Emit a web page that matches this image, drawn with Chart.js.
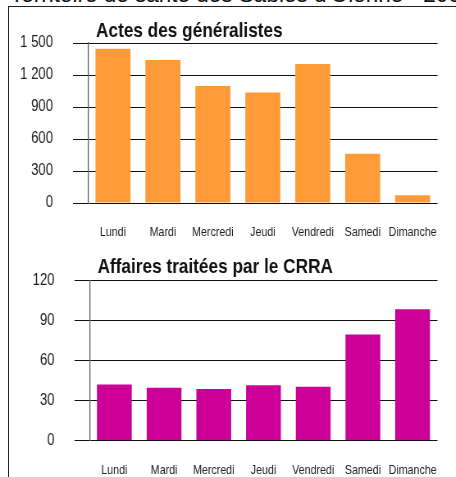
<!DOCTYPE html>
<html>
<head>
<meta charset="utf-8">
<script src="https://cdn.jsdelivr.net/npm/chart.js@4/dist/chart.umd.min.js"></script>
<style>
  html, body { margin: 0; padding: 0; background: #fff; }
  #page { position: relative; width: 456px; height: 477px; overflow: hidden; }
  #head { position: absolute; left: 10px; top: -18px; font: 22.5px "Liberation Sans", Arial, sans-serif; color: #111; white-space: nowrap; }
  #frame { position: absolute; left: 8px; top: 6px; width: 460px; height: 480px; border-left: 1px solid #222; border-top: 1px solid #222; }
  /* no narrow font installed: draw wide and squeeze horizontally like Arial Narrow */
  canvas { position: absolute; left: 0; transform: scaleX(0.82); transform-origin: 0 0; }
</style>
</head>
<body>
<div id="page">
  <div id="head">Territoire de santé des Sables d'Olonne - 2009</div>
  <div id="frame"></div>
  <canvas id="actesChart" width="556" height="245" style="top:0"></canvas>
  <canvas id="crraChart" width="556" height="232" style="top:245px"></canvas>
</div>
<script>
const days = ['Lundi', 'Mardi', 'Mercredi', 'Jeudi', 'Vendredi', 'Samedi', 'Dimanche'];
const actes = [1445, 1340, 1097, 1037, 1302, 462, 72];
const affaires = [42, 39.5, 38.7, 41.5, 40.3, 79.5, 98.5];
const actesTicks = [0, 300, 600, 900, 1200, 1500];
const affairesTicks = [0, 30, 60, 90, 120];

const SX = 0.82; // horizontal squeeze
const font = '"Liberation Sans", Arial, sans-serif';

// title left-aligned over the plot area
const titlePlugin = {
    id: 'leftTitle',
    afterDraw(chart, args, opts) {
        const ctx = chart.ctx;
        ctx.save();
        ctx.font = 'bold 21px ' + font;
        ctx.fillStyle = '#111';
        ctx.textBaseline = 'alphabetic';
        ctx.fillText(opts.text, chart.chartArea.left + 8 / SX, opts.y);
        ctx.restore();
    }
};

function fmt(v) {
    return String(v).replace(/\B(?=(\d{3})+(?!\d))/g, ' ');
}

function makeChart(id, values, ticks, color, title, cfg) {
    return new Chart(document.getElementById(id), {
        type: 'bar',
        data: {
            labels: days,
            datasets: [{
                data: values,
                backgroundColor: color,
                borderWidth: 0,
                categoryPercentage: 0.7,
                barPercentage: 1
            }]
        },
        plugins: [titlePlugin],
        options: {
            responsive: false,
            animation: false,
            layout: { padding: { top: cfg.top, right: 556 - 438 / SX, left: 0, bottom: 0 } },
            plugins: {
                legend: { display: false },
                tooltip: { enabled: false },
                leftTitle: { text: title, y: cfg.titleY }
            },
            scales: {
                x: {
                    grid: { display: false, drawTicks: false },
                    border: { display: false },
                    ticks: { padding: 22, color: '#222', font: { family: font, size: 13 }, maxRotation: 0, autoSkip: false },
                    afterFit: s => { s.height = cfg.xh; }
                },
                y: {
                    min: 0,
                    max: ticks[ticks.length - 1],
                    afterBuildTicks: s => { s.ticks = ticks.map(v => ({ value: v })); },
                    grid: { color: '#111', lineWidth: 1, tickLength: 15 / SX, drawTicks: true },
                    border: { display: true, color: '#555', width: 1.2 },
                    ticks: { padding: 20 / SX, color: '#222', font: { family: font, size: 16 }, callback: v => fmt(v) },
                    afterFit: s => { s.width = cfg.left / SX; }
                }
            }
        }
    });
}

makeChart('actesChart', actes, actesTicks, '#FF9A38', 'Actes des généralistes',
    { top: 43, xh: 42, left: 88, titleY: 37 });
makeChart('crraChart', affaires, affairesTicks, '#CC0099', 'Affaires traitées par le CRRA',
    { top: 35.5, xh: 36.5, left: 89.5, titleY: 28 });
</script>
</body>
</html>
